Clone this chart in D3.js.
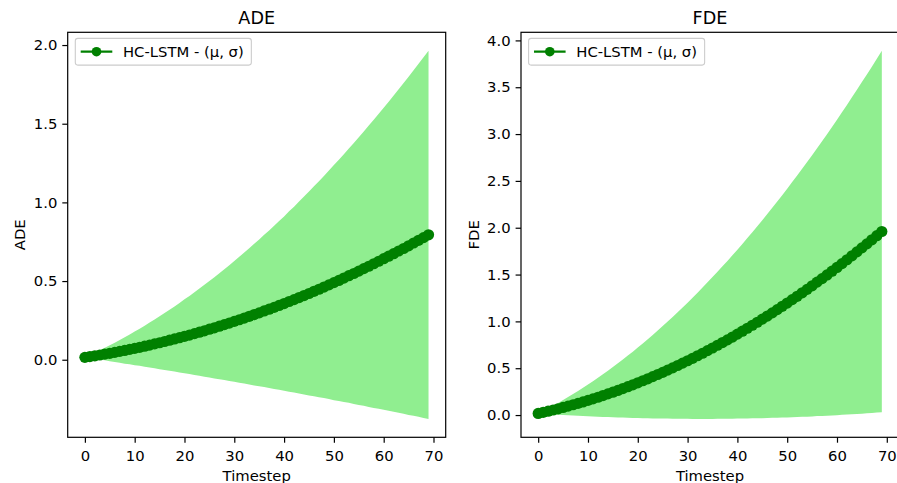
<!DOCTYPE html>
<html>
<head>
<meta charset="utf-8">
<script src="https://cdn.jsdelivr.net/npm/d3@7"></script>
<style>
  body { margin: 0; background: #fff; }
  text { font-family: "DejaVu Sans", sans-serif; fill: #000; }
</style>
</head>
<body>
<div class="graph"></div>
<script>
// timestep index 0..69
const timesteps = d3.range(70);

const adeMean = [0.015,0.020,0.025,0.030,0.036,0.041,0.047,0.053,0.059,0.066,
  0.072,0.079,0.086,0.093,0.101,0.108,0.116,0.124,0.132,0.140,
  0.149,0.157,0.166,0.175,0.184,0.194,0.203,0.213,0.223,0.233,
  0.244,0.254,0.265,0.276,0.287,0.298,0.310,0.321,0.333,0.345,
  0.357,0.370,0.382,0.395,0.408,0.421,0.435,0.448,0.462,0.476,
  0.490,0.504,0.519,0.534,0.548,0.563,0.579,0.594,0.610,0.626,
  0.642,0.658,0.674,0.691,0.707,0.724,0.742,0.759,0.776,0.794];

const adeStd = [0.000,0.010,0.020,0.030,0.040,0.051,0.061,0.072,0.084,0.095,
  0.107,0.118,0.130,0.143,0.155,0.168,0.181,0.194,0.207,0.221,
  0.235,0.248,0.263,0.277,0.292,0.307,0.322,0.337,0.352,0.368,
  0.384,0.400,0.416,0.433,0.450,0.466,0.484,0.501,0.519,0.536,
  0.554,0.573,0.591,0.610,0.629,0.648,0.667,0.687,0.706,0.726,
  0.747,0.767,0.787,0.808,0.829,0.851,0.872,0.894,0.916,0.938,
  0.960,0.982,1.005,1.028,1.051,1.075,1.098,1.122,1.146,1.170];

const fdeMean = [0.017,0.029,0.041,0.054,0.067,0.081,0.095,0.110,0.125,0.140,
  0.157,0.173,0.190,0.208,0.226,0.244,0.263,0.283,0.303,0.323,
  0.344,0.366,0.387,0.410,0.433,0.456,0.480,0.504,0.529,0.554,
  0.580,0.606,0.633,0.660,0.688,0.716,0.745,0.774,0.803,0.833,
  0.864,0.895,0.927,0.959,0.991,1.024,1.057,1.091,1.126,1.161,
  1.196,1.232,1.268,1.305,1.342,1.380,1.419,1.457,1.496,1.536,
  1.576,1.617,1.658,1.700,1.742,1.785,1.828,1.871,1.915,1.960];

const fdeStd = [0.000,0.015,0.031,0.047,0.063,0.080,0.097,0.115,0.133,0.151,
  0.169,0.188,0.208,0.228,0.248,0.268,0.289,0.310,0.332,0.354,
  0.376,0.399,0.422,0.446,0.469,0.494,0.518,0.543,0.569,0.594,
  0.620,0.647,0.674,0.701,0.729,0.757,0.785,0.814,0.843,0.872,
  0.902,0.932,0.963,0.994,1.025,1.057,1.089,1.121,1.154,1.187,
  1.221,1.255,1.289,1.324,1.359,1.395,1.430,1.467,1.503,1.540,
  1.577,1.615,1.653,1.692,1.730,1.770,1.809,1.849,1.889,1.930];

const xTicks = [0, 10, 20, 30, 40, 50, 60, 70];
const adeTicks = [0.0, 0.5, 1.0, 1.5, 2.0];
const fdeTicks = [0.0, 0.5, 1.0, 1.5, 2.0, 2.5, 3.0, 3.5, 4.0];

const legendLabel = "HC-LSTM - (\u03bc, \u03c3)";

const width = 897;
const height = 483;
const fontSize = "14.8px";

let svg = d3.select(".graph")
  .append("svg")
  .attr("width", width)
  .attr("height", height);

function drawPanel(opts){
  let left = opts.left, top = 32.3, w = 378, h = 405;
  let g = svg.append("g");

  let points = timesteps.map(function(t, i){
    return {t: t, m: opts.mean[i], lo: opts.mean[i] - opts.std[i], hi: opts.mean[i] + opts.std[i]};
  });

  // matplotlib style 5% margins
  let xPad = (d3.max(timesteps) - d3.min(timesteps)) * 0.05;
  let x = d3.scaleLinear()
    .domain([d3.min(timesteps) - xPad, d3.max(timesteps) + xPad])
    .range([left, left + w]);

  let yMin = d3.min(points, d => d.lo), yMax = d3.max(points, d => d.hi);
  let yPad = (yMax - yMin) * 0.05;
  let y = d3.scaleLinear()
    .domain([yMin - yPad, yMax + yPad])
    .range([top + h, top]);

  // band mean +/- std
  let area = d3.area()
    .x(d => x(d.t))
    .y0(d => y(d.lo))
    .y1(d => y(d.hi));

  g.append("path")
    .datum(points)
    .attr("d", area)
    .attr("fill", "#90ee90");

  let line = d3.line()
    .x(d => x(d.t))
    .y(d => y(d.m));

  g.append("path")
    .datum(points)
    .attr("d", line)
    .attr("fill", "none")
    .attr("stroke", "green")
    .attr("stroke-width", 2.3);

  g.selectAll(".dot")
    .data(points)
    .enter().append("circle")
    .attr("cx", d => x(d.t))
    .attr("cy", d => y(d.m))
    .attr("r", 5.6)
    .attr("fill", "green");

  // axes
  let xAxis = d3.axisBottom(x)
    .tickValues(xTicks)
    .tickFormat(d3.format("d"))
    .tickSizeOuter(0)
    .tickSize(5.4)
    .tickPadding(7.7);

  let yAxis = d3.axisLeft(y)
    .tickValues(opts.yTicks)
    .tickFormat(d3.format(".1f"))
    .tickSizeOuter(0)
    .tickSize(5.4)
    .tickPadding(5);

  let gx = g.append("g")
    .attr("transform", "translate(0," + (top + h) + ")")
    .call(xAxis);
  let gy = g.append("g")
    .attr("transform", "translate(" + left + ",0)")
    .call(yAxis);

  [gx, gy].forEach(function(ax){
    ax.select(".domain").remove();
    ax.selectAll("line").attr("stroke", "#000").attr("stroke-width", 1.2);
    ax.selectAll("text")
      .style("font-family", "DejaVu Sans, sans-serif")
      .style("font-size", fontSize)
      .attr("fill", "#000");
  });

  // frame
  g.append("rect")
    .attr("x", left)
    .attr("y", top)
    .attr("width", w)
    .attr("height", h)
    .attr("fill", "none")
    .attr("stroke", "#000")
    .attr("stroke-width", 1.2);

  // title + labels
  g.append("text")
    .attr("x", left + w / 2)
    .attr("y", 23.5)
    .attr("text-anchor", "middle")
    .style("font-size", "17.6px")
    .text(opts.title);

  g.append("text")
    .attr("x", left + w / 2)
    .attr("y", 480.7)
    .attr("text-anchor", "middle")
    .style("font-size", fontSize)
    .text("Timestep");

  g.append("text")
    .attr("transform", "translate(" + (left - 42.4) + "," + (top + h / 2) + ") rotate(-90)")
    .attr("text-anchor", "middle")
    .style("font-size", fontSize)
    .text(opts.title);

  // legend
  let lx = left + 7.6, ly = top + 6.1;
  let leg = g.append("g").attr("transform", "translate(" + lx + "," + ly + ")");
  let box = leg.append("rect")
    .attr("rx", 2.5)
    .attr("height", 26.7)
    .attr("fill", "#fff")
    .attr("fill-opacity", 0.8)
    .attr("stroke", "#cccccc")
    .attr("stroke-width", 1.1);
  leg.append("line")
    .attr("x1", 5.4).attr("x2", 37)
    .attr("y1", 13.3).attr("y2", 13.3)
    .attr("stroke", "green")
    .attr("stroke-width", 2.3);
  leg.append("circle")
    .attr("cx", 21.2).attr("cy", 13.3)
    .attr("r", 4.8)
    .attr("fill", "green");
  let lt = leg.append("text")
    .attr("x", 47.7)
    .attr("y", 19)
    .style("font-size", fontSize)
    .text(legendLabel);
  let tw = lt.node().getComputedTextLength();
  box.attr("width", 47.7 + tw + 7.6);
}

drawPanel({left: 67.7, title: "ADE", mean: adeMean, std: adeStd, yTicks: adeTicks});
drawPanel({left: 521, title: "FDE", mean: fdeMean, std: fdeStd, yTicks: fdeTicks});
</script>
</body>
</html>
